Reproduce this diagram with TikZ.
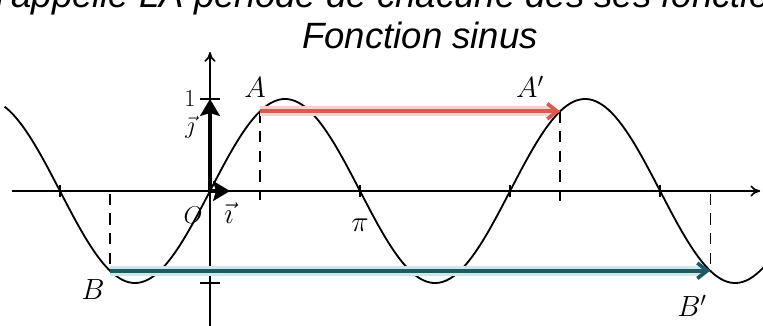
\documentclass[tikz,border=0pt]{standalone}
\usepackage{fontspec}
\newfontfamily\titlefont{Liberation Sans}
\usetikzlibrary{arrows.meta,calc}
\definecolor{shiftred}{RGB}{214,92,82}
\definecolor{shiftredglow}{RGB}{248,208,204}
\definecolor{shiftteal}{RGB}{30,90,96}
\definecolor{shifttealglow}{RGB}{204,232,236}

\begin{document}
\begin{tikzpicture}[
  x=0.025cm, y=0.025cm,
  axis/.style={line width=1.2pt, -{To[length=7pt,width=8pt]}},
  curve/.style={line width=1.3pt},
  tick/.style={line width=1.1pt},
  vect/.style={line width=2.6pt, -{Stealth[length=12pt,width=14pt,inset=2pt]}},
  proj/.style={line width=0.9pt, dash pattern=on 8pt off 6pt},
  period/.style={line width=2.6pt, -{Straight Barb[length=7pt,width=11pt]}},
  glow/.style={line width=7pt},
  lab/.style={font=\fontsize{21}{24}\selectfont, inner sep=1pt},
  smalllab/.style={font=\fontsize{19}{22}\selectfont, inner sep=1pt},
  heading/.style={font=\titlefont\itshape\fontsize{26}{30}\selectfont, inner sep=0pt},
]
\useasboundingbox (0,0) rectangle (763,325);

% titles
\node[heading, anchor=base west] (intro) at (-4,318) {l'appelle LA période de chacune des ses fonctions};
\node[heading, anchor=base] (title) at (420,277) {Fonction sinus};

% repere : pi = 150 px, 1 = 92 px
\begin{scope}[shift={(210,134)}, x=1.19366cm, y=2.3cm]
  \coordinate (O) at (0,0);
  \coordinate (A) at ({pi/3},{sin(60)});
  \coordinate (A') at ({7*pi/3},{sin(60)});
  \coordinate (B) at ({-2*pi/3},{-sin(60)});
  \coordinate (B') at ({10*pi/3},{-sin(60)});

  \draw[axis] (-4.15,0) -- (11.52,0);
  \draw[axis] (0,-1.5) -- (0,1.51);
  \foreach \k in {-1,1,2,3}
    \draw[tick] ({\k*pi},-0.065) -- ({\k*pi},0.065);
  \foreach \v in {-1,1}
    \draw[tick] (-0.21,\v) -- (0.21,\v);

  \draw[curve] plot[domain=-4.3:11.7, samples=240, smooth] (\x,{sin(\x r)});

  % projections
  \draw[proj] (A) -- ({pi/3},-0.1);
  \draw[proj] (A') -- ({7*pi/3},-0.15);
  \draw[proj] ({-2*pi/3},-0.03) -- (B);
  \draw[proj] ({10*pi/3},-0.03) -- (B');

  % vecteurs unitaires
  \draw[vect] (O) -- (0,1);
  \draw[vect] (O) -- (0.42,0);

  % periodes
  \draw[glow, shiftredglow] (A) -- ($(A')+(-0.15,0)$);
  \draw[period, shiftred] (A) -- (A');
  \draw[glow, shifttealglow] (B) -- ($(B')+(-0.15,0)$);
  \draw[period, shiftteal] (B) -- (B');
\end{scope}

% etiquettes
\node[lab] (labA) at (255,237) {$A$};
\node[lab] (labAp) at (530,238) {$A'$};
\node[lab] (labB) at (93,35) {$B$};
\node[lab] (labBp) at (692,19) {$B'$};
\node[smalllab] (labO) at (193,110) {$O$};
\node[lab] (labi) at (229,112) {$\vec{\imath}$};
\node[lab] (labpi) at (360,100) {$\pi$};
\node[smalllab] (labone) at (190,226) {$1$};
\node[smalllab] (labj) at (190,198) {$\vec{\jmath}$};
\end{tikzpicture}
\end{document}
